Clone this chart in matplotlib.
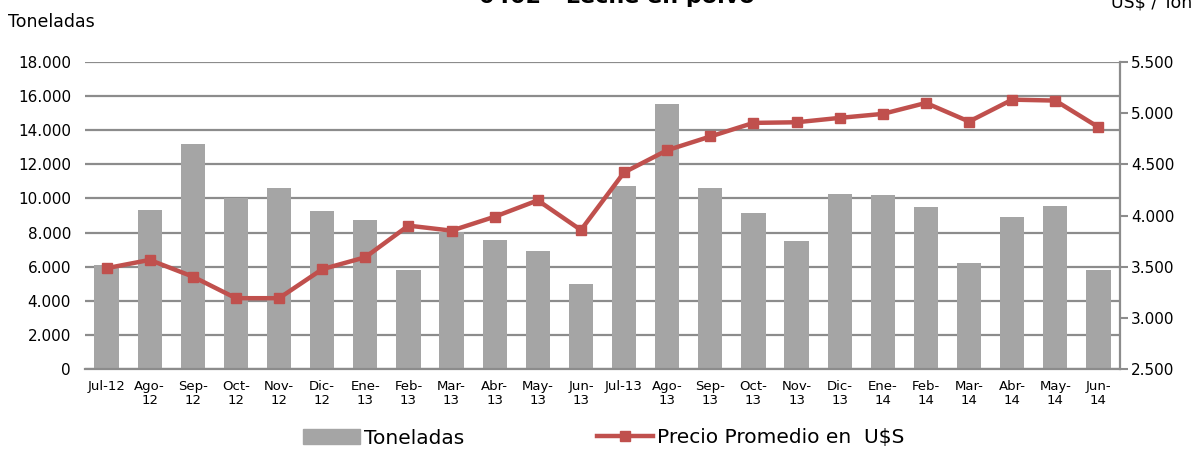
import matplotlib
matplotlib.use("Agg")
import matplotlib.pyplot as plt
from matplotlib.ticker import FuncFormatter, MultipleLocator
from matplotlib.lines import Line2D
from matplotlib.patches import Patch

categories = ["Jul-12", "Ago-\n12", "Sep-\n12", "Oct-\n12", "Nov-\n12", "Dic-\n12",
              "Ene-\n13", "Feb-\n13", "Mar-\n13", "Abr-\n13", "May-\n13", "Jun-\n13",
              "Jul-13", "Ago-\n13", "Sep-\n13", "Oct-\n13", "Nov-\n13", "Dic-\n13",
              "Ene-\n14", "Feb-\n14", "Mar-\n14", "Abr-\n14", "May-\n14", "Jun-\n14"]
toneladas = [6080, 9300, 13200, 10050, 10600, 9280, 8730, 5810, 8030, 7540, 6920, 4990,
             10730, 15520, 10610, 9130, 7510, 10240, 10200, 9520, 6220, 8910, 9560, 5810]
precio = [3485, 3566, 3403, 3192, 3192, 3475, 3592, 3901, 3852, 3988, 4148, 3858,
          4421, 4638, 4772, 4905, 4911, 4954, 4993, 5100, 4918, 5132, 5123, 4863]

title = "0402 - Leche en polvo"
bar_color = "#A5A5A5"
line_color = "#C0504D"
grid_color = "#8C8C8C"

plt.rcParams['font.family'] = ['DejaVu Sans']

fig = plt.figure(figsize=(11.99, 4.53), dpi=100)
W, H = 1199, 453
ax = fig.add_axes([85 / W, 1 - 369 / H, (1120 - 85) / W, (369 - 62) / H])
ax2 = ax.twinx()

x = list(range(len(categories)))
ax.bar(x, toneladas, width=0.56, color=bar_color, zorder=2)
ax.set_xlim(-0.5, len(categories) - 0.5)
ax.set_ylim(0, 18000)
ax.yaxis.set_major_locator(MultipleLocator(2000))
fmt = FuncFormatter(lambda v, p: f"{int(v):,}".replace(",", "."))
ax.yaxis.set_major_formatter(fmt)
ax.grid(axis='y', color=grid_color, linewidth=1.6, zorder=0)
ax.set_axisbelow(True)
ax.set_xticks(x)
ax.set_xticklabels(categories, fontsize=9.5, linespacing=1.05)
ax.tick_params(axis='x', length=0, pad=8)
ax.tick_params(axis='y', length=0, labelsize=11, pad=10)

ax2.plot(x, precio, color=line_color, linewidth=3.2, marker='s', markersize=7,
         zorder=5)
ax2.set_ylim(2500, 5500)
ax2.yaxis.set_major_locator(MultipleLocator(500))
ax2.yaxis.set_major_formatter(fmt)
ax2.tick_params(axis='y', length=6, color=grid_color, width=1.5, labelsize=11, pad=2)

for a in (ax, ax2):
    a.spines['top'].set_visible(False)
    a.spines['left'].set_visible(False)
ax.spines['right'].set_visible(False)
ax2.spines['right'].set_color(grid_color)
ax2.spines['right'].set_linewidth(1.6)
ax.spines['bottom'].set_color(grid_color)
ax.spines['bottom'].set_linewidth(1.6)
ax2.spines['bottom'].set_visible(False)

fig.text(617 / W, 1 - 3 / H, title, ha='center', va='baseline', fontsize=16,
         fontweight='bold')
fig.text(8 / W, 1 - 27 / H, "Toneladas", ha='left', va='baseline', fontsize=12.5)
fig.text(1192 / W, 1 - 8 / H, "US$ / Ton", ha='right', va='baseline', fontsize=12.5)

handles = [Patch(color=bar_color),
           Line2D([0], [0], color=line_color, linewidth=3.2, marker='s', markersize=7)]
labels = ["Toneladas", "Precio Promedio en  U$S"]
fig.legend(handles, labels, loc='center', bbox_to_anchor=(604 / W, 1 - 438 / H),
           ncol=2, frameon=False, fontsize=14.5, handlelength=2.8,
           columnspacing=6.6, handletextpad=0.2)

fig.savefig("out.png", dpi=100)
